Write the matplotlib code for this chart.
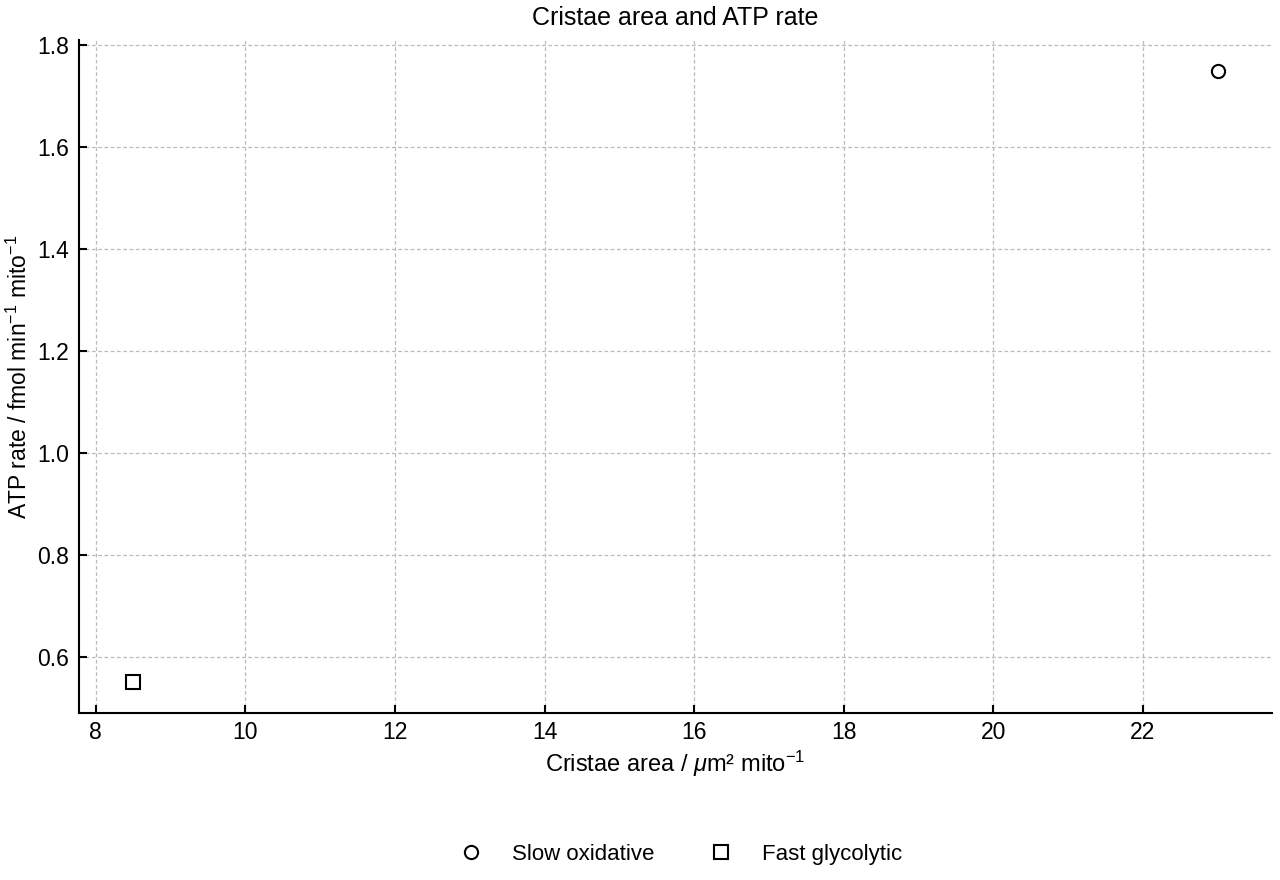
import matplotlib
matplotlib.use("Agg")
import matplotlib.pyplot as plt

plt.rcParams["font.family"] = ["Liberation Sans", "DejaVu Sans"]
plt.rcParams["mathtext.fontset"] = "custom"
plt.rcParams["mathtext.rm"] = "Liberation Sans"
plt.rcParams["mathtext.it"] = "Liberation Sans:italic"

# data
groups = ["Slow oxidative", "Fast glycolytic"]
markers = ["o", "s"]
cristae_area = [23.0, 8.5]
atp_rate = [1.75, 0.55]

fig = plt.figure(figsize=(12.8, 8.8), dpi=100)
ax = fig.add_axes([0.0617, 0.19, 0.932, 0.7645])

for g, m, x, y in zip(groups, markers, cristae_area, atp_rate):
    ax.plot([x], [y], linestyle="none", marker=m, markersize=9.5,
            markerfacecolor="white", markeredgecolor="black",
            markeredgewidth=1.5, label=g)

ax.set_title("Cristae area and ATP rate", fontsize=18, pad=11)
ax.set_xlabel("Cristae area / $\\mu$m² mito$^{-1}$", fontsize=17, labelpad=3)
ax.set_ylabel("ATP rate / fmol min$^{-1}$ mito$^{-1}$", fontsize=16.5, labelpad=4)

ax.grid(True, linestyle=(0, (3, 2)), color="#bbbbbb", linewidth=0.9)
ax.set_axisbelow(True)
for s in ["top", "right"]:
    ax.spines[s].set_visible(False)
for s in ["left", "bottom"]:
    ax.spines[s].set_linewidth(1.5)
ax.tick_params(direction="in", length=6, width=1.5, labelsize=16.5)
ax.tick_params(axis="x", pad=6)
ax.tick_params(axis="y", pad=7)

ax.legend(loc="upper center", bbox_to_anchor=(0.5, -0.165), ncol=2,
          frameon=False, fontsize=16, handletextpad=0.85, columnspacing=2.0)

fig.savefig("out.png", dpi=100)
